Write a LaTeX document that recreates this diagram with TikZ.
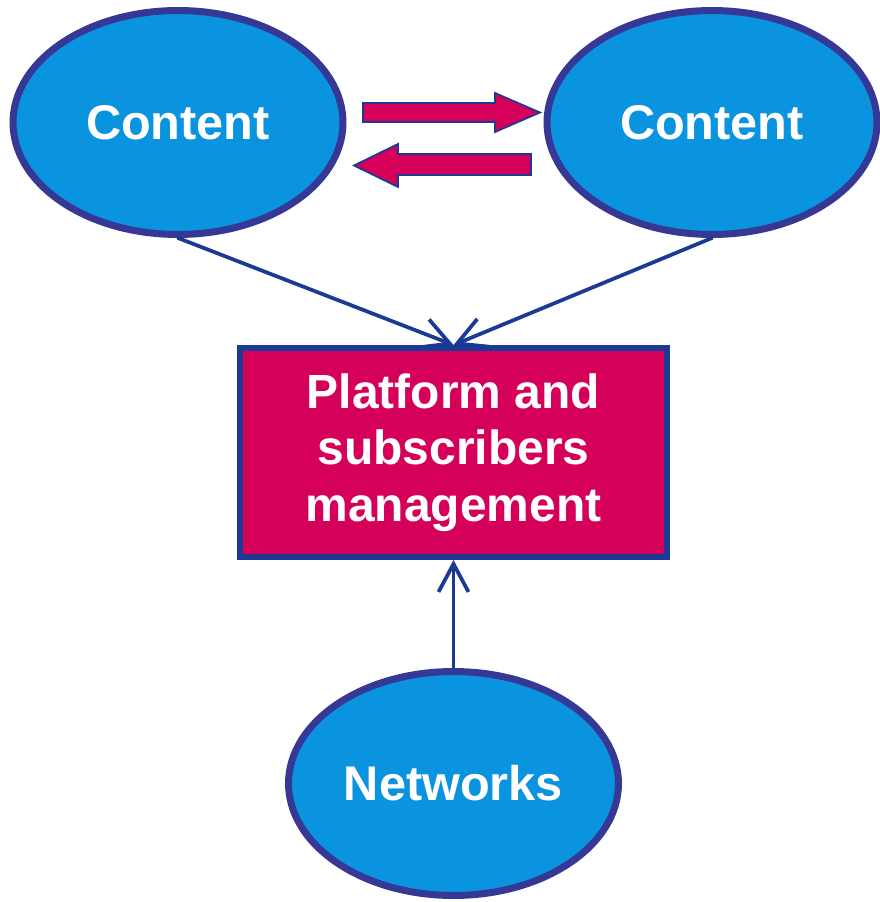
\documentclass[tikz,border=0pt]{standalone}
\usepackage{fontspec}
\setmainfont{Liberation Sans}
\usetikzlibrary{shapes.geometric,arrows.meta}

\definecolor{ovalblue}{HTML}{0A93DF}
\definecolor{ovaledge}{HTML}{363896}
\definecolor{boxred}{HTML}{D5005A}
\definecolor{navy}{HTML}{1C3A94}

\begin{document}
\begin{tikzpicture}[x=0.02cm, y=-0.02cm,
        ovalnode/.style={ellipse, draw=ovaledge, fill=ovalblue, line width=0.14cm, minimum width=6.6cm, minimum height=4.48cm, inner sep=0pt, text=white, font=\bfseries\fontsize{27.7}{32}\selectfont},
        boxnode/.style={rectangle, draw=navy, fill=boxred, line width=0.12cm, minimum width=8.54cm, minimum height=4.18cm, inner sep=0pt, align=center, text=white, font=\bfseries\fontsize{27.3}{32}\selectfont},
        link/.style={draw=navy, line width=0.075cm, line cap=round, -{Straight Barb[length=0.56cm, width=0.6cm]}},
        blockarrow/.style={draw=navy, fill=boxred, line width=0.035cm, line join=miter},
    ]
        \useasboundingbox (0,0) rectangle (879,902);

        %Nodes
        \node[ovalnode] (contl) at (178,122.5) {Content};
        \node[ovalnode] (contr) at (712,122.5) {Content};
        \node[boxnode] (platform) at (453.5,452.5) {Platform and\\subscribers\\management};
        \node[ovalnode] (networks) at (453.5,783.5) {Networks};

        %Exchange arrows
        \filldraw[blockarrow] (363,103) -- (495,103) -- (495,93) -- (540,112.5) -- (495,132) -- (495,122) -- (363,122) -- cycle;
        \filldraw[blockarrow] (531,154) -- (398,154) -- (398,144) -- (354,165.5) -- (398,187) -- (398,175) -- (531,175) -- cycle;

        %Lines
        \draw[link] (contl.south) -- (platform.north);
        \draw[link] (contr.south) -- (platform.north);
        \draw[link] (networks.north) -- (platform.south);
    \end{tikzpicture}
\end{document}
